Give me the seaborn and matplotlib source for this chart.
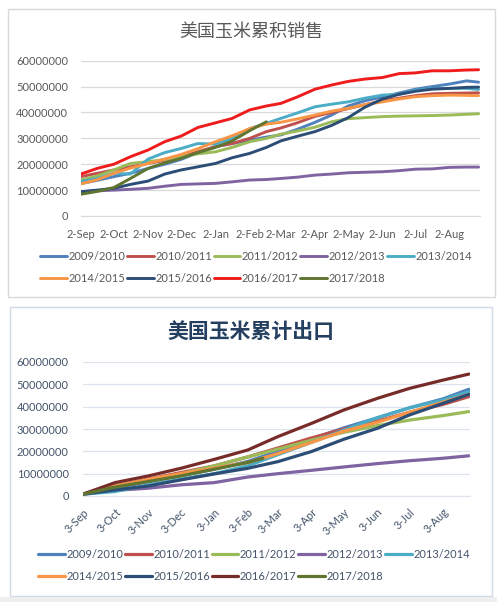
import pandas as pd
import matplotlib
matplotlib.use("Agg")
import matplotlib.pyplot as plt
import matplotlib.dates as mdates
from matplotlib.ticker import FuncFormatter, MultipleLocator
from matplotlib.patches import Rectangle
import seaborn as sns

# season names
seasons = ["2009/2010", "2010/2011", "2011/2012", "2012/2013", "2013/2014",
           "2014/2015", "2015/2016", "2016/2017", "2017/2018"]

# top chart: cumulative sales (million tonnes, twice a month)
sales_dates = ["2016-09-02", "2016-09-17", "2016-10-02", "2016-10-17", "2016-11-02",
               "2016-11-17", "2016-12-02", "2016-12-17", "2017-01-02", "2017-01-17",
               "2017-02-02", "2017-02-17", "2017-03-02", "2017-03-17", "2017-04-02",
               "2017-04-17", "2017-05-02", "2017-05-17", "2017-06-02", "2017-06-17",
               "2017-07-02", "2017-07-17", "2017-08-02", "2017-08-17", "2017-08-28"]
sales_0910 = [12.5, 13.8, 15.2, 16.5, 18.4, 20.0, 21.9, 24.5, 26.8, 28.0, 29.3, 30.5, 31.3,
              33.5, 36.2, 39.0, 42.5, 44.5, 46.0, 47.5, 49.0, 50.0, 51.0, 52.2, 51.7]
sales_1011 = [15.2, 16.5, 17.8, 19.0, 20.3, 21.5, 22.9, 24.8, 26.8, 28.0, 30.0, 32.6, 34.0,
              36.0, 38.5, 40.0, 41.5, 43.0, 44.5, 45.5, 46.5, 47.2, 47.4, 47.5, 47.6]
sales_1112 = [13.9, 15.5, 17.8, 20.3, 21.0, 21.8, 22.9, 24.0, 24.8, 26.5, 28.7, 30.0, 31.6,
              32.8, 34.3, 36.4, 37.6, 38.0, 38.4, 38.6, 38.7, 38.8, 39.0, 39.3, 39.5]
sales_1213 = [9.4, 9.7, 10.0, 10.3, 10.7, 11.5, 12.2, 12.4, 12.6, 13.2, 13.9, 14.1, 14.5,
              15.0, 15.8, 16.2, 16.7, 16.9, 17.1, 17.5, 18.1, 18.2, 18.8, 18.9, 18.9]
sales_1314 = [13.3, 14.5, 16.5, 16.2, 22.0, 24.5, 26.1, 28.0, 27.8, 30.0, 33.8, 35.8, 37.7,
              39.8, 42.2, 43.2, 44.1, 45.5, 46.7, 47.0, 48.6, 49.2, 49.3, 49.3, 48.9]
sales_1415 = [12.4, 14.0, 16.5, 18.5, 20.3, 22.0, 23.8, 26.0, 28.7, 31.0, 33.8, 35.5, 36.2,
              37.5, 39.0, 40.5, 41.6, 43.0, 44.1, 45.2, 46.1, 46.5, 46.7, 46.6, 46.5]
sales_1516 = [9.4, 10.0, 10.7, 12.2, 13.5, 16.2, 17.8, 19.0, 20.3, 22.5, 24.2, 26.5, 29.0,
              30.8, 32.6, 35.0, 38.0, 42.0, 45.2, 47.0, 48.2, 49.0, 49.3, 49.7, 49.8]
sales_1617 = [16.2, 18.4, 20.0, 22.9, 25.5, 28.7, 30.9, 34.2, 36.0, 37.7, 41.0, 42.5, 43.5,
              46.0, 49.0, 50.6, 52.0, 52.9, 53.5, 55.0, 55.3, 56.1, 56.1, 56.4, 56.5]
sales_1718 = [8.4, 9.5, 11.0, 14.5, 18.4, 20.5, 22.3, 24.5, 26.5, 29.0, 33.0, 36.4]

# bottom chart: cumulative exports (million tonnes)
exp_dates = ["2016-09-03", "2016-10-03", "2016-11-03", "2016-12-03", "2017-01-03",
             "2017-02-03", "2017-03-03", "2017-04-03", "2017-05-03", "2017-06-03",
             "2017-07-03", "2017-08-03", "2017-08-27"]
exp_0910 = [0.8, 3.5, 6.5, 9.0, 12.0, 15.5, 20.0, 25.5, 30.5, 35.0, 39.5, 43.5, 47.8]
exp_1011 = [0.8, 4.5, 7.5, 10.5, 13.5, 17.5, 21.5, 26.0, 30.0, 33.5, 37.5, 41.0, 44.5]
exp_1112 = [0.8, 4.0, 7.0, 10.0, 13.5, 17.5, 21.0, 25.0, 28.5, 31.5, 34.0, 36.0, 37.8]
exp_1213 = [0.8, 2.5, 3.5, 5.0, 6.0, 8.5, 10.0, 11.5, 13.0, 14.5, 15.8, 16.9, 18.0]
exp_1314 = [0.8, 2.0, 5.0, 7.5, 10.0, 13.5, 18.5, 24.0, 29.5, 35.0, 39.5, 43.0, 46.7]
exp_1415 = [0.8, 4.5, 7.5, 10.0, 12.5, 15.0, 19.0, 24.0, 29.0, 33.0, 37.5, 42.0, 45.5]
exp_1516 = [0.8, 2.7, 4.5, 7.2, 9.9, 12.4, 15.4, 19.9, 25.4, 30.3, 36.3, 41.5, 45.5]
exp_1617 = [0.8, 6.0, 9.0, 12.4, 16.4, 20.6, 26.6, 32.5, 38.5, 43.7, 48.2, 51.9, 54.6]
exp_1718_dates = exp_dates[:6] + ["2017-02-17"]
exp_1718 = [0.8, 4.0, 6.5, 9.0, 12.0, 15.0, 16.9]

colors = ["#4F81BD", "#C0504D", "#9BBB59", "#8064A2", "#4BACC6",
          "#F79646", "#2C4D75", "#EE1C1C", "#5F7530"]
colors_exp = colors[:7] + ["#772C2A", "#5F7530"]


def build(series, date_lists):
    rows = []
    for name, vals, dates in zip(seasons, series, date_lists):
        for d, v in zip(dates, vals):
            rows.append({"date": pd.Timestamp(d), "value": v * 1e6, "season": name})
    return pd.DataFrame(rows)


sales_df = build([sales_0910, sales_1011, sales_1112, sales_1213, sales_1314,
                  sales_1415, sales_1516, sales_1617, sales_1718],
                 [sales_dates] * 9)
exp_df = build([exp_0910, exp_1011, exp_1112, exp_1213, exp_1314,
                exp_1415, exp_1516, exp_1617, exp_1718],
               [exp_dates] * 8 + [exp_1718_dates])

sns.set_style("white")
plt.rcParams["font.family"] = ["Lato", "Noto Sans CJK SC", "DejaVu Sans"]

W, H = 497, 602
fig = plt.figure(figsize=(W / 100, H / 100), dpi=100)
fig.patch.set_facecolor("white")

# panel frames
fig.patches.append(Rectangle((8 / W, 1 - 297 / H), 487 / W, 288 / H, transform=fig.transFigure,
                             fill=False, edgecolor="#D9D9D9", linewidth=1))
fig.patches.append(Rectangle((10 / W, 1 - 596 / H), 482 / W, 289 / H, transform=fig.transFigure,
                             fill=False, edgecolor="#D0DAE6", linewidth=1))
fig.patches.append(Rectangle((0, 0), 1, 5 / H, transform=fig.transFigure,
                             facecolor="#EEEEEE", edgecolor="none"))

# legend fills by column, so reorder to read row by row
leg_order = [0, 5, 1, 6, 2, 7, 3, 8, 4]


def day_fmt(x, pos):
    d = mdates.num2date(x)
    return "{}-{}".format(d.day, d.strftime("%b"))


def style_axes(ax, start, end, day, tick_color, grid_color):
    ax.set_xlim(pd.Timestamp(start), pd.Timestamp(end))
    ax.set_ylim(0, 60000000)
    ax.yaxis.set_major_locator(MultipleLocator(10000000))
    ax.yaxis.set_major_formatter(FuncFormatter(lambda v, p: "{:d}".format(int(v))))
    ax.xaxis.set_major_locator(mdates.MonthLocator(bymonthday=day))
    ax.xaxis.set_major_formatter(FuncFormatter(day_fmt))
    ax.grid(axis="y", color=grid_color, linewidth=0.9)
    ax.grid(axis="x", visible=False)
    for s in ["left", "right", "top"]:
        ax.spines[s].set_visible(False)
    ax.spines["bottom"].set_color(grid_color)
    ax.tick_params(axis="y", length=0, pad=9, labelsize=8, labelcolor=tick_color)
    ax.tick_params(axis="x", length=4, width=0.8, color=grid_color, direction="out",
                   labelsize=8, labelcolor=tick_color)
    ax.set_xlabel("")
    ax.set_ylabel("")
    ax.set_facecolor("none")


def add_legend(ax, anchor, color):
    lines = ax.get_lines()
    ax.legend([lines[i] for i in leg_order], [seasons[i] for i in leg_order],
              loc="upper left", bbox_to_anchor=anchor, bbox_transform=fig.transFigure,
              ncol=5, frameon=False, fontsize=8, handlelength=2.4, handletextpad=0.15,
              columnspacing=0.15, labelspacing=0.95, borderpad=0, borderaxespad=0,
              labelcolor=color)


# ---- top chart
ax1 = fig.add_axes([80.7 / W, 1 - 216 / H, 399 / W, 155.3 / H])
sns.lineplot(data=sales_df, x="date", y="value", hue="season", hue_order=seasons,
             palette=dict(zip(seasons, colors)), linewidth=2.1, estimator=None,
             legend=False, ax=ax1)
style_axes(ax1, "2016-09-02", "2017-08-29", 2, "#595959", "#D9D9D9")
ax1.tick_params(axis="x", pad=5)
fig.text(251 / W, 1 - 32 / H, "美国玉米累积销售", ha="center", va="center",
         fontsize=13, color="#595959", family=["Noto Sans CJK SC"])
add_legend(ax1, (40 / W, 1 - 251 / H), "#595959")

# ---- bottom chart
ax2 = fig.add_axes([82.7 / W, 1 - 496 / H, 387.3 / W, 134 / H])
sns.lineplot(data=exp_df, x="date", y="value", hue="season", hue_order=seasons,
             palette=dict(zip(seasons, colors_exp)), linewidth=2.3, estimator=None,
             legend=False, ax=ax2)
style_axes(ax2, "2016-09-03", "2017-08-28", 3, "#44546A", "#DCE3EC")
ax2.tick_params(axis="y", pad=10)
plt.setp(ax2.get_xticklabels(), rotation=45, ha="right", va="top", rotation_mode="anchor")
fig.text(251 / W, 1 - 332 / H, "美国玉米累计出口", ha="center", va="center",
         fontsize=15, fontweight="bold", color="#243F60", family=["Noto Sans CJK SC"])
add_legend(ax2, (38 / W, 1 - 549 / H), "#44546A")

fig.savefig("out.png", dpi=100)
